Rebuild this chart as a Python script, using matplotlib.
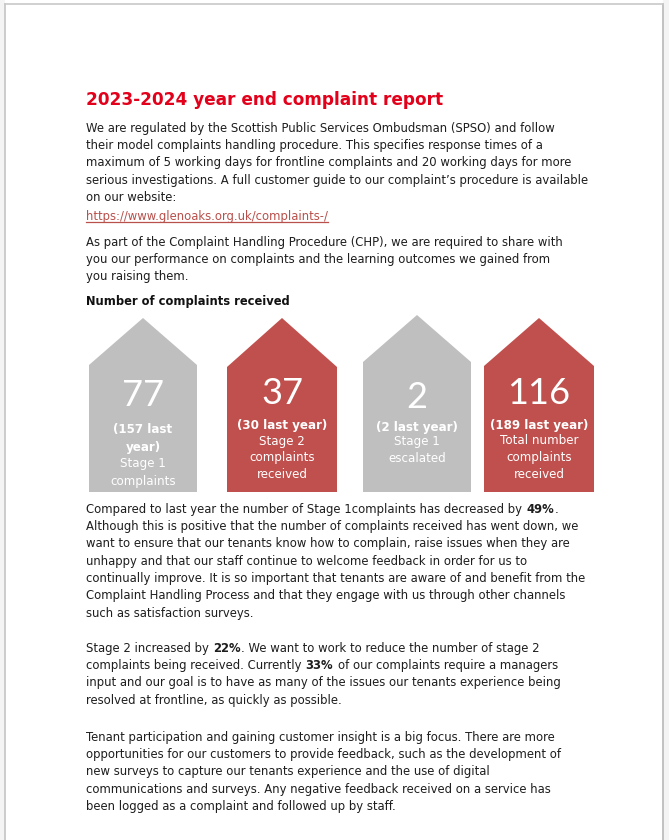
import matplotlib
matplotlib.use("Agg")
import matplotlib.pyplot as plt
from matplotlib.patches import Polygon, Rectangle

# -----------------------------
# Content
# -----------------------------
title = "2023-2024 year end complaint report"

intro_lines = [
    "We are regulated by the Scottish Public Services Ombudsman (SPSO) and follow",
    "their model complaints handling procedure. This specifies response times of a",
    "maximum of 5 working days for frontline complaints and 20 working days for more",
    "serious investigations. A full customer guide to our complaint\u2019s procedure is available",
    "on our website:",
]
link = "https://www.glenoaks.org.uk/complaints-/"
chp_lines = [
    "As part of the Complaint Handling Procedure (CHP), we are required to share with",
    "you our performance on complaints and the learning outcomes we gained from",
    "you raising them.",
]
heading = "Number of complaints received"

# houses: this year, last year, description
values = [77, 37, 2, 116]
last_year = [157, 30, 2, 189]
house_labels = [
    ["(157 last", "year)", "Stage 1", "complaints"],
    ["(30 last year)", "Stage 2", "complaints", "received"],
    ["(2 last year)", "Stage 1", "escalated"],
    ["(189 last year)", "Total number", "complaints", "received"],
]
n_bold = [2, 1, 1, 1]   # how many label lines are bold
house_colors = ["#BFBFBF", "#C0504D", "#BFBFBF", "#C0504D"]

# paragraphs with bold fragments: (text, bold)
para_stage1 = [
    [("Compared to last year the number of Stage 1complaints has decreased by ", False), ("49%", True), (".", False)],
    [("Although this is positive that the number of complaints received has went down, we", False)],
    [("want to ensure that our tenants know how to complain, raise issues when they are", False)],
    [("unhappy and that our staff continue to welcome feedback in order for us to", False)],
    [("continually improve. It is so important that tenants are aware of and benefit from the", False)],
    [("Complaint Handling Process and that they engage with us through other channels", False)],
    [("such as satisfaction surveys.", False)],
]
para_stage2 = [
    [("Stage 2 increased by ", False), ("22%", True), (". We want to work to reduce the number of stage 2", False)],
    [("complaints being received. Currently ", False), ("33%", True), (" of our complaints require a managers", False)],
    [("input and our goal is to have as many of the issues our tenants experience being", False)],
    [("resolved at frontline, as quickly as possible.", False)],
]
para_tenant = [
    [("Tenant participation and gaining customer insight is a big focus. There are more", False)],
    [("opportunities for our customers to provide feedback, such as the development of", False)],
    [("new surveys to capture our tenants experience and the use of digital", False)],
    [("communications and surveys. Any negative feedback received on a service has", False)],
    [("been logged as a complaint and followed up by staff.", False)],
]

# -----------------------------
# Layout (pixels, y downwards)
# -----------------------------
W, H = 669, 840
X0 = 86
LH = 17.3
TEXT = "#1E1E1E"
FONT = "DejaVu Sans"

fig = plt.figure(figsize=(W / 100, H / 100), dpi=100)
ax = fig.add_axes([0, 0, 1, 1])
ax.set_xlim(0, W)
ax.set_ylim(H, 0)
ax.axis("off")
renderer = fig.canvas.get_renderer()


def width(txt, size, weight="normal", family=FONT):
    t = ax.text(0, 0, txt, fontsize=size, fontweight=weight, family=family)
    w = t.get_window_extent(renderer).width
    t.remove()
    return w


def fit(txt, target, weight="normal"):
    return 10 * target / width(txt, 10, weight)


# page edges
ax.add_patch(Rectangle((0, 0), 5, H, facecolor="#F4F4F4", edgecolor="none"))
ax.add_patch(Rectangle((663, 0), W - 663, H, facecolor="#F4F4F4", edgecolor="none"))
ax.plot([5, 5], [4, H], color="#C4C4C4", lw=1.2)
ax.plot([663, 663], [4, H], color="#B8B8B8", lw=1.2)
ax.plot([5, 663], [4, 4], color="#C8C8C8", lw=1.2)

body = fit(intro_lines[0] + intro_lines[3], 471 + 496)
space = width("a a", body) - width("aa", body)

# title
ax.text(X0, 105, title, fontsize=fit(title, 358, "bold"), fontweight="bold",
        color="#E2001A", family=FONT, va="baseline")


def draw_parts(y, parts):
    x = X0
    for txt, bold in parts:
        core = txt.strip()
        x += (len(txt) - len(txt.lstrip())) * space
        wt = "bold" if bold else "normal"
        t = ax.text(x, y, core, fontsize=body, fontweight=wt, color=TEXT,
                    family=FONT, va="baseline")
        x += t.get_window_extent(renderer).width + 0.5
        x += (len(txt) - len(txt.rstrip())) * space


def draw_para(y0, lines):
    for i, ln in enumerate(lines):
        if isinstance(ln, str):
            ln = [(ln, False)]
        draw_parts(y0 + i * LH, ln)


draw_para(131.7, intro_lines)

lt = ax.text(X0, 220, link, fontsize=body, color="#B8504B", family=FONT, va="baseline")
lw = lt.get_window_extent(renderer).width
ax.plot([X0, X0 + lw], [222, 222], color="#B8504B", lw=0.9)

draw_para(245.7, chp_lines)

ax.text(X0, 305, heading, fontsize=fit(heading, 203, "bold"), fontweight="bold",
        color="#111111", family=FONT, va="baseline")

# houses
house_x = [143, 282, 417, 539]
half_w = [54, 55, 54, 55]
apex_y = [318, 318, 315, 318]
shoulder_y = [365, 367, 362, 366]
bottom_y = 492
num_y = [396, 393, 398, 393]
label_y = [[429, 447, 463, 481], [425, 442, 458, 475], [427, 442, 458], [426, 441, 458, 475]]

lab_size = body * 1.02
for i, v in enumerate(values):
    cx, hw = house_x[i], half_w[i]
    pts = [(cx - hw, bottom_y), (cx - hw, shoulder_y[i]), (cx, apex_y[i]),
           (cx + hw, shoulder_y[i]), (cx + hw, bottom_y)]
    ax.add_patch(Polygon(pts, closed=True, facecolor=house_colors[i], edgecolor="none"))
    ax.text(cx, num_y[i], str(v), fontsize=26, color="white", family="Lato",
            fontweight="normal", ha="center", va="center")
    for j, lab in enumerate(house_labels[i]):
        ax.text(cx, label_y[i][j], lab, fontsize=lab_size, color="white", family=FONT,
                fontweight="bold" if j < n_bold[i] else "normal",
                ha="center", va="center")

draw_para(512.7, para_stage1)
draw_para(651.7, para_stage2)
draw_para(740.7, para_tenant)

fig.savefig("out.png", dpi=100, facecolor="white")
